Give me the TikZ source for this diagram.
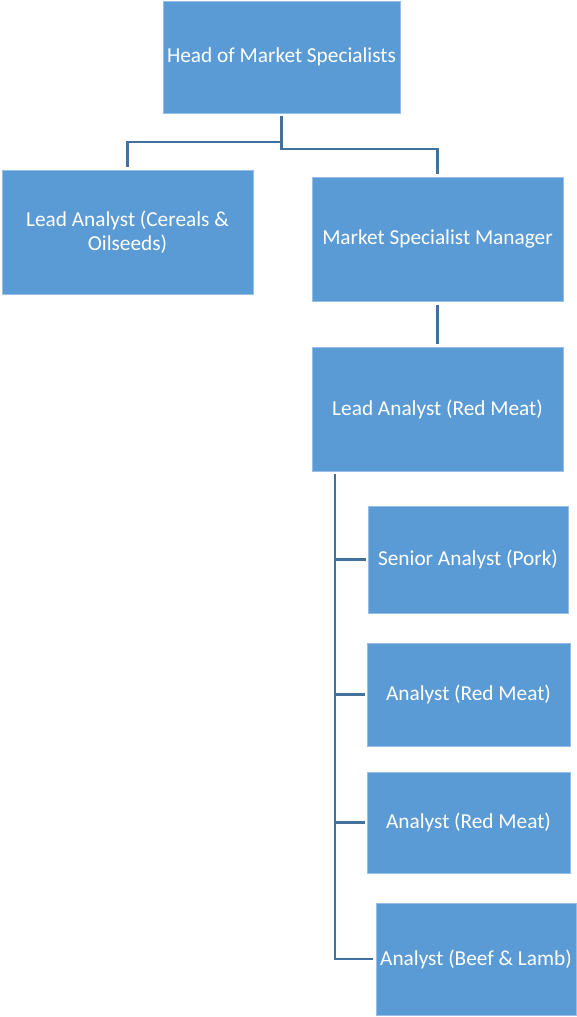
\documentclass[tikz,border=0pt]{standalone}
\usepackage{fontspec}
\setmainfont{Carlito}
\definecolor{boxblue}{RGB}{91,155,213}
\definecolor{boxedge}{RGB}{150,190,230}
\definecolor{connblue}{RGB}{65,113,156}
\begin{document}
\begin{tikzpicture}[x=1pt,y=1pt,
  orgbox/.style={rectangle, fill=boxblue, draw=boxedge, line width=0.7pt, inner sep=0pt,
    text=white, align=center, font=\fontsize{21.3}{23.5}\selectfont},
  conn/.style={draw=connblue, line width=2.2pt}]
\useasboundingbox (0,0) rectangle (576,-1017);
\node[orgbox, minimum width=237pt, minimum height=112pt] (head) at (281.5,-57) {Head of Market Specialists};
\node[orgbox, minimum width=251pt, minimum height=124pt] (cer) at (127.5,-232) {Lead Analyst (Cereals \&\\Oilseeds)};
\node[orgbox, minimum width=251pt, minimum height=124pt] (msm) at (437.5,-239) {Market Specialist Manager};
\node[orgbox, minimum width=251pt, minimum height=124pt] (lrm) at (437.5,-409) {Lead Analyst (Red Meat)};
\node[orgbox, minimum width=200pt, minimum height=107pt] (pork) at (468,-559.5) {Senior Analyst (Pork)};
\node[orgbox, minimum width=203pt, minimum height=103pt] (rmone) at (468.5,-694.5) {Analyst (Red Meat)};
\node[orgbox, minimum width=203pt, minimum height=101pt] (rmtwo) at (468.5,-822.5) {Analyst (Red Meat)};
\node[orgbox, minimum width=200pt, minimum height=112pt] (beef) at (476,-959) {Analyst (Beef \& Lamb)};
% connectors
\draw[conn] ([yshift=-3pt]head.south) -- ++(0,-26) -| ([yshift=3pt]cer.north);
\draw[conn] ([yshift=-3pt]head.south) -- ++(0,-33) -| ([yshift=3pt]msm.north);
\draw[conn] ([yshift=-4pt]msm.south) -- ([yshift=3pt]lrm.north);
\coordinate (spine) at ([xshift=23pt,yshift=-3pt]lrm.south west);
\draw[conn] (spine) |- ([xshift=-3pt]beef.west);
\draw[conn] (spine |- pork.west) -- ([xshift=-2pt]pork.west);
\draw[conn] (spine |- rmone.west) -- ([xshift=-2pt]rmone.west);
\draw[conn] (spine |- rmtwo.west) -- ([xshift=-2pt]rmtwo.west);
\end{tikzpicture}
\end{document}
